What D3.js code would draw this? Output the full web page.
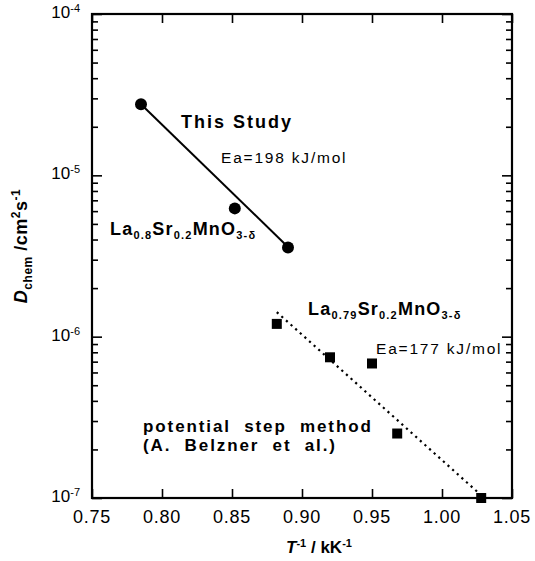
<!DOCTYPE html>
<html><head><meta charset="utf-8">
<script src="https://cdn.jsdelivr.net/npm/d3@7"></script>
<style>
body{margin:0;background:#fff;}
text{font-family:"Liberation Sans",Arial,Helvetica,sans-serif;fill:#000;white-space:pre;}
</style></head>
<body><svg id="c" width="535" height="561"></svg>
<script>
// Data
const studyX = [0.785, 0.852, 0.890];
const studyD = [2.76e-5, 6.24e-6, 3.57e-6];
const studyFitX = [0.785, 0.890];
const studyFitD = [2.76e-5, 3.60e-6];
const belznerX = [0.882, 0.920, 0.950, 0.968, 1.028];
const belznerD = [1.20e-6, 7.45e-7, 6.82e-7, 2.51e-7, 1.0e-7];
const belznerFitX = [0.882, 1.028];
const belznerFitD = [1.42e-6, 1.04e-7];
const xTicks = [0.75, 0.80, 0.85, 0.90, 0.95, 1.00, 1.05];
const xTickLabels = ["0.75","0.80","0.85","0.90","0.95","1.00","1.05"];
const yTicks = [1e-7, 1e-6, 1e-5, 1e-4];
const yTickExps = ["-7","-6","-5","-4"];

const svg = d3.select("#c");
const L=92, R=512, T=14, B=498;
const x = d3.scaleLinear().domain([0.75,1.05]).range([L,R]);
const y = d3.scaleLog().domain([1e-7,1e-4]).range([B,T]);

const minor = [];
for (let e=-7;e<-4;e++) for (let m=2;m<=9;m++) minor.push(m*Math.pow(10,e));

function styleAxis(g){ g.select(".domain").remove(); g.selectAll("line").attr("stroke","#000").attr("stroke-width",1.6); }

// ticks (inward)
svg.append("g").attr("transform",`translate(${L},0)`).call(d3.axisLeft(y).tickValues(yTicks).tickSize(-10).tickFormat("")).call(styleAxis);
svg.append("g").attr("transform",`translate(${L},0)`).call(d3.axisLeft(y).tickValues(minor).tickSize(-6).tickFormat("")).call(styleAxis);
svg.append("g").attr("transform",`translate(${R},0)`).call(d3.axisRight(y).tickValues(yTicks).tickSize(-10).tickFormat("")).call(styleAxis);
svg.append("g").attr("transform",`translate(${R},0)`).call(d3.axisRight(y).tickValues(minor).tickSize(-6).tickFormat("")).call(styleAxis);
svg.append("g").attr("transform",`translate(0,${B})`).call(d3.axisBottom(x).tickValues(xTicks).tickSize(-9).tickFormat("")).call(styleAxis);
svg.append("g").attr("transform",`translate(0,${T})`).call(d3.axisTop(x).tickValues(xTicks).tickSize(-9).tickFormat("")).call(styleAxis);

// frame
svg.append("rect").attr("x",L).attr("y",T).attr("width",R-L).attr("height",B-T)
  .attr("fill","none").attr("stroke","#000").attr("stroke-width",2.2);

// x tick labels
svg.append("g").selectAll("text").data(xTicks).join("text")
  .attr("x",d=>x(d)).attr("y",B+25).attr("text-anchor","middle")
  .style("font-size","18px").style("letter-spacing","0.8px")
  .text((d,i)=>xTickLabels[i]);

// y tick labels
const yl = svg.append("g").selectAll("text").data(yTicks).join("text")
  .attr("x",L-12).attr("y",d=>y(d)+4).attr("text-anchor","end")
  .style("font-size","17px");
yl.append("tspan").text("10");
yl.append("tspan").attr("dy",-6).style("font-size","11px").text((d,i)=>yTickExps[i]);

// axis titles
const xt = svg.append("text").attr("x",319).attr("y",553).attr("text-anchor","middle")
  .style("font-size","17px").style("font-weight","bold");
xt.append("tspan").style("font-style","italic").text("T");
xt.append("tspan").attr("dy",-6).style("font-size","11px").text("-1");
xt.append("tspan").attr("dy",6).text(" / kK");
xt.append("tspan").attr("dy",-6).style("font-size","11px").text("-1");

const yt = svg.append("text").attr("transform","translate(27,246) rotate(-90)").attr("text-anchor","middle")
  .style("font-size","18px").style("font-weight","bold").style("letter-spacing","0.5px");
yt.append("tspan").style("font-style","italic").text("D");
yt.append("tspan").attr("dy",5).style("font-size","12px").text("chem");
yt.append("tspan").attr("dy",-5).text(" /cm");
yt.append("tspan").attr("dy",-7).style("font-size","12px").text("2");
yt.append("tspan").attr("dy",7).text("s");
yt.append("tspan").attr("dy",-7).style("font-size","12px").text("-1");

// fit lines
const line = d3.line().x(d=>x(d[0])).y(d=>y(d[1]));
svg.append("path").attr("d",line(studyFitX.map((v,i)=>[v,studyFitD[i]])))
  .attr("fill","none").attr("stroke","#000").attr("stroke-width",2);
svg.append("path").attr("d",line(belznerFitX.map((v,i)=>[v,belznerFitD[i]])))
  .attr("fill","none").attr("stroke","#000").attr("stroke-width",2.2).attr("stroke-dasharray","2.2,4");

// markers
svg.append("g").selectAll("circle").data(studyX).join("circle")
  .attr("cx",d=>x(d)).attr("cy",(d,i)=>y(studyD[i])).attr("r",6).attr("fill","#000");
svg.append("g").selectAll("rect").data(belznerX).join("rect")
  .attr("x",d=>x(d)-5).attr("y",(d,i)=>y(belznerD[i])-5).attr("width",10).attr("height",10).attr("fill","#000");

// annotations
function plain(xp,yp,txt,size,bold,ls){
  return svg.append("text").attr("x",xp).attr("y",yp).attr("xml:space","preserve").style("font-size",size+"px")
    .style("font-weight",bold?"bold":"normal").style("letter-spacing",(ls||0)+"px").text(txt);
}
plain(181,128,"This Study",18,true,2);
plain(221,163,"Ea=198 kJ/mol",15.5,false,1.8);
plain(376,354,"Ea=177 kJ/mol",15.5,false,1.8);
plain(143,432,"potential  step  method",17,true,1.9);
plain(143,451,"(A.  Belzner  et  al.)",17,true,1.9);

function formula(xp,yp,parts){
  const t = svg.append("text").attr("x",xp).attr("y",yp).style("font-size","18px").style("font-weight","bold").style("letter-spacing","1.2px");
  let sub=false;
  parts.forEach(p=>{
    const s = t.append("tspan").text(p.t);
    if (p.sub && !sub){ s.attr("dy",4).style("font-size","11px"); sub=true; }
    else if (!p.sub && sub){ s.attr("dy",-4); sub=false; }
    else if (p.sub) s.style("font-size","11px");
  });
  return t;
}
formula(110,235,[{t:"La"},{t:"0.8",sub:true},{t:"Sr"},{t:"0.2",sub:true},{t:"MnO"},{t:"3-δ",sub:true}]);
formula(308,315,[{t:"La"},{t:"0.79",sub:true},{t:"Sr"},{t:"0.2",sub:true},{t:"MnO"},{t:"3-δ",sub:true}]);
</script></body></html>
